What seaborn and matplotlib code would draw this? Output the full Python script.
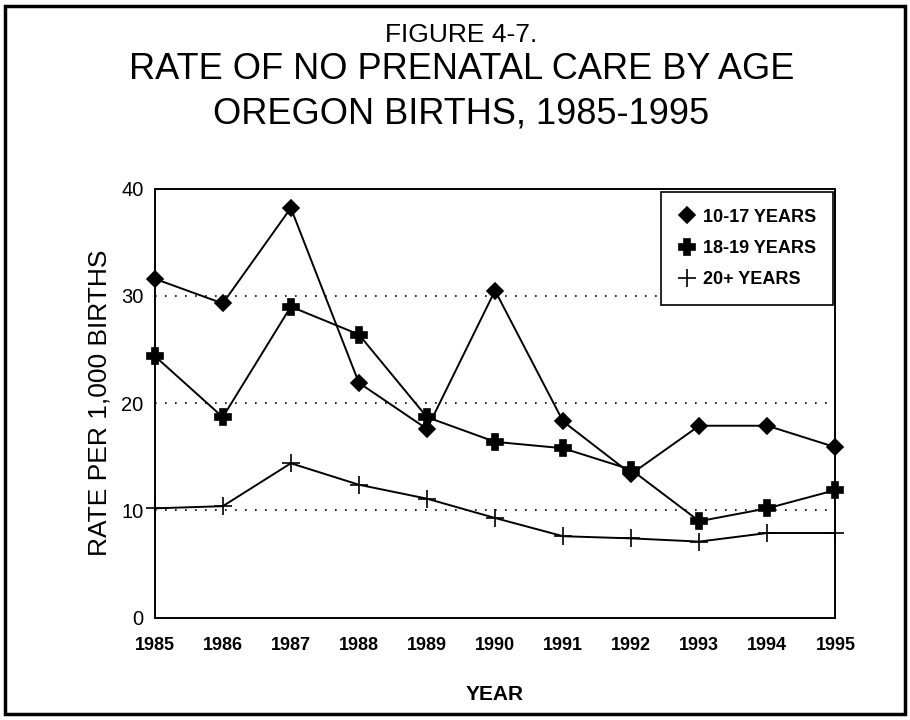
import pandas as pd
import numpy as np
import matplotlib
matplotlib.use("Agg")
import matplotlib.pyplot as plt
import seaborn as sns
from matplotlib.patches import Rectangle

# ===== DATA =====
years = [1985, 1986, 1987, 1988, 1989, 1990, 1991, 1992, 1993, 1994, 1995]
age_10_17 = [31.6, 29.3, 38.2, 21.9, 17.6, 30.5, 18.3, 13.4, 17.9, 17.9, 15.9]
age_18_19 = [24.4, 18.7, 29.0, 26.4, 18.7, 16.4, 15.8, 13.8, 9.0, 10.2, 11.9]
age_20_plus = [10.2, 10.4, 14.4, 12.4, 11.1, 9.3, 7.6, 7.4, 7.1, 7.9, 7.9]
groups = ["10-17 YEARS", "18-19 YEARS", "20+ YEARS"]

df = pd.DataFrame({
    "year": years * 3,
    "rate": age_10_17 + age_18_19 + age_20_plus,
    "group": [g for g in groups for _ in years],
})

sns.set_style("white")
plt.rcParams['font.family'] = ['Liberation Sans', 'DejaVu Sans']
plt.rcParams.update({"text.color": "black", "axes.labelcolor": "black",
                     "xtick.color": "black", "ytick.color": "black"})

fig = plt.figure(figsize=(9.1, 7.2), dpi=100)
ax = fig.add_axes([0.170, 0.142, 0.748, 0.596])

markers = {"10-17 YEARS": "D", "18-19 YEARS": "P", "20+ YEARS": "+"}
sizes = {"10-17 YEARS": 8, "18-19 YEARS": 11, "20+ YEARS": 13}
for g in groups:
    sub = df[df["group"] == g]
    sns.lineplot(data=sub, x="year", y="rate", ax=ax, color="black",
                 marker=markers[g], markersize=sizes[g], markeredgewidth=1.2,
                 markeredgecolor="black", markerfacecolor="black",
                 linewidth=1.4, label=g, clip_on=False, zorder=3)

ax.set_xlim(1985, 1995)
ax.set_ylim(0, 40)
ax.set_xticks(years)
ax.set_xticklabels([str(y) for y in years], fontsize=13, fontweight="bold")
ax.set_yticks([0, 10, 20, 30, 40])
ax.set_yticklabels(["0", "10", "20", "30", "40"], fontsize=14.5)
ax.tick_params(axis="x", direction="out", length=5, width=1.2, pad=9)
ax.tick_params(axis="y", direction="inout", length=6, width=1.2, pad=5)
for y in [10, 20, 30]:
    ax.axhline(y, color="black", linestyle=(0, (1, 5)), linewidth=1.2, zorder=1)
for s in ax.spines.values():
    s.set_color("black")
    s.set_linewidth(1.4)

ax.set_xlabel("YEAR", fontsize=15, fontweight="bold", labelpad=22)
ax.set_ylabel("RATE PER 1,000 BIRTHS", fontsize=19, labelpad=7)

leg = ax.legend(loc="upper right", bbox_to_anchor=(0.997, 0.993), borderaxespad=0,
                prop={"weight": "bold", "size": 13}, frameon=True, fancybox=False,
                edgecolor="black", borderpad=0.95, labelspacing=0.78,
                handlelength=1.0, handletextpad=0.4, framealpha=1)
leg.get_frame().set_linewidth(1.2)
for h in leg.legend_handles:
    h.set_linestyle("None")

fig.text(0.507, 0.9417, "FIGURE 4-7.", ha="center", va="baseline", fontsize=19)
fig.text(0.507, 0.890, "RATE OF NO PRENATAL CARE BY AGE", ha="center",
         va="baseline", fontsize=26)
fig.text(0.507, 0.829, "OREGON BIRTHS, 1985-1995", ha="center", va="baseline",
         fontsize=26)

fig.patches.append(Rectangle((0.006, 0.008), 0.988, 0.984, transform=fig.transFigure,
                             fill=False, edgecolor="black", linewidth=2.5))

fig.savefig("out.png", dpi=100)
